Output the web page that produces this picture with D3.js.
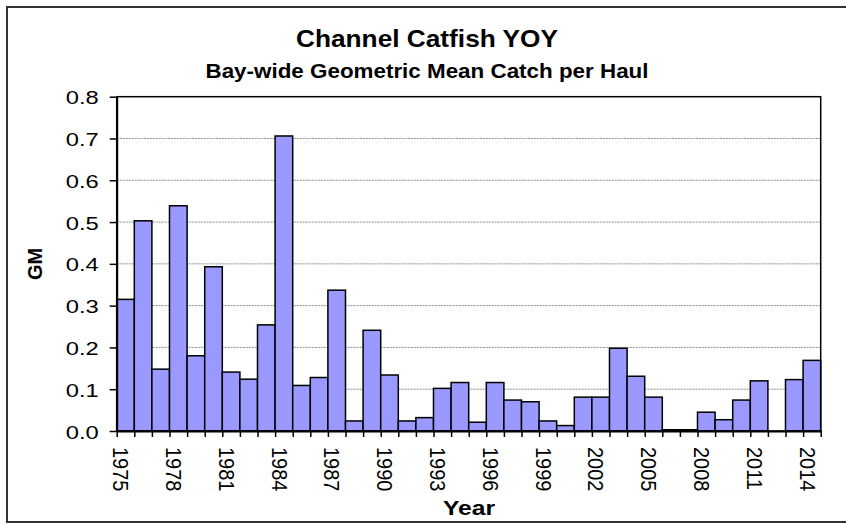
<!DOCTYPE html>
<html>
<head>
<meta charset="utf-8">
<script src="https://cdn.jsdelivr.net/npm/d3@7"></script>
<style>
html,body{margin:0;padding:0;background:#fff;}
svg{display:block;}
text{font-family:"Liberation Sans",Arial,Helvetica,sans-serif;fill:#000;}
</style>
</head>
<body>
<svg id="chart" width="846" height="525"></svg>
<script>
const years = [1975,1976,1977,1978,1979,1980,1981,1982,1983,1984,
               1985,1986,1987,1988,1989,1990,1991,1992,1993,1994,
               1995,1996,1997,1998,1999,2000,2001,2002,2003,2004,
               2005,2006,2007,2008,2009,2010,2011,2012,2013,2014];
const gm = [0.315,0.503,0.148,0.539,0.180,0.393,0.141,0.124,0.254,0.706,
            0.109,0.128,0.337,0.024,0.241,0.134,0.024,0.032,0.102,0.116,
            0.021,0.116,0.074,0.070,0.024,0.013,0.081,0.081,0.198,0.131,
            0.081,0.003,0.003,0.045,0.027,0.074,0.120,0.000,0.123,0.169];
const yearLabels = [1975,1978,1981,1984,1987,1990,1993,1996,1999,2002,2005,2008,2011,2014];
const yTicks = [0,0.1,0.2,0.3,0.4,0.5,0.6,0.7,0.8];
const titleText = "Channel Catfish YOY";
const subtitleText = "Bay-wide Geometric Mean Catch per Haul";
const xTitle = "Year";
const yTitle = "GM";

const svg = d3.select("#chart");
const L = 116.7, R = 820.7, T = 96.7, B = 431;

// outer frame
svg.append("rect").attr("x",7).attr("y",7).attr("width",860).attr("height",515)
  .attr("fill","#fff").attr("stroke","#333").attr("stroke-width",2);

const x = d3.scaleBand().domain(years).range([L,R]).padding(0);
const xEdge = d3.scaleLinear().domain([0,years.length]).range([L,R]);
const y = d3.scaleLinear().domain([0,0.8]).range([B,T]);

// gridlines
svg.append("g").selectAll("line").data(yTicks.filter(d=>d>0 && d<0.8)).join("line")
  .attr("x1",L).attr("x2",R).attr("y1",d=>y(d)).attr("y2",d=>y(d))
  .attr("stroke","#8c8c8c").attr("stroke-width",1).attr("stroke-dasharray","2,1");

// bars
svg.append("g").selectAll("rect").data(years.map((yr,i)=>({yr,v:gm[i]})).filter(d=>d.v>0)).join("rect")
  .attr("x",d=>x(d.yr)).attr("width",x.bandwidth())
  .attr("y",d=>y(d.v)).attr("height",d=>B-y(d.v))
  .attr("fill","#9999ff").attr("stroke","#000").attr("stroke-width",1.5);

// plot border
svg.append("rect").attr("x",L).attr("y",T).attr("width",R-L).attr("height",B-T)
  .attr("fill","none").attr("stroke","#000").attr("stroke-width",1.5);

// y axis
const yAxis = svg.append("g").attr("transform",`translate(${L},0)`)
  .call(d3.axisLeft(y).tickValues(yTicks).tickSize(7).tickSizeOuter(0).tickFormat(d3.format(".1f")));
yAxis.select(".domain").attr("stroke","#000").attr("stroke-width",2);
yAxis.selectAll(".tick line").attr("stroke","#000").attr("stroke-width",1.5);
yAxis.selectAll(".tick text")
  .attr("x",null).attr("dy",null)
  .attr("transform","translate(-18,7) scale(1.25,1)")
  .attr("text-anchor","end")
  .style("font-size","19px").style("font-family",'"Liberation Sans",Arial,sans-serif');

// x axis tick marks at bar edges
const xAxis = svg.append("g").attr("transform",`translate(0,${B})`)
  .call(d3.axisBottom(xEdge).tickValues(d3.range(years.length+1)).tickSize(6).tickSizeOuter(0).tickFormat(""));
xAxis.select(".domain").attr("stroke","#000").attr("stroke-width",2);
xAxis.selectAll(".tick line").attr("stroke","#000").attr("stroke-width",1.5);

// x labels
const xl = svg.append("g").attr("transform",`translate(0,${B})`)
  .call(d3.axisBottom(x).tickValues(yearLabels).tickSize(0).tickFormat(d3.format("d")));
xl.select(".domain").remove();
xl.selectAll(".tick text")
  .attr("x",null).attr("y",null).attr("dy",null)
  .attr("transform","translate(-4.5,16) scale(1.12,1) rotate(90)")
  .attr("dy","0.35em")
  .attr("text-anchor","start")
  .style("font-size","20px").style("font-family",'"Liberation Sans",Arial,sans-serif');

// titles
svg.append("text").attr("x",427).attr("y",46.5).attr("text-anchor","middle")
  .attr("textLength",262).attr("lengthAdjust","spacingAndGlyphs")
  .style("font-size","24.5px").style("font-weight","bold").text(titleText);
svg.append("text").attr("x",427).attr("y",78).attr("text-anchor","middle")
  .attr("textLength",443).attr("lengthAdjust","spacingAndGlyphs")
  .style("font-size","20px").style("font-weight","bold").text(subtitleText);
svg.append("text").attr("x",469).attr("y",515).attr("text-anchor","middle")
  .attr("textLength",52).attr("lengthAdjust","spacingAndGlyphs")
  .style("font-size","21px").style("font-weight","bold").text(xTitle);
svg.append("text").attr("transform","translate(42,264) rotate(-90)").attr("text-anchor","middle")
  .style("font-size","20px").style("font-weight","bold").text(yTitle);
</script>
</body>
</html>
